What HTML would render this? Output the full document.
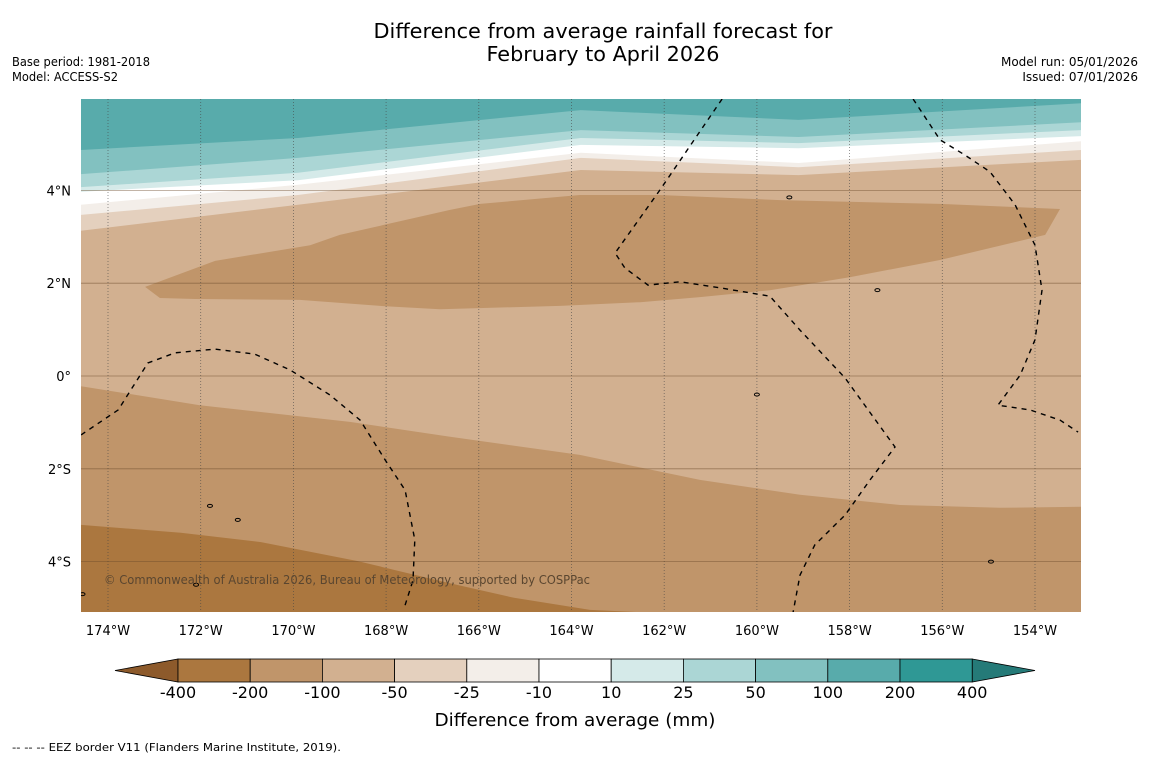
<!DOCTYPE html>
<html><head><meta charset="utf-8"><style>
body{margin:0;background:#fff;}
svg{display:block;font-family:"DejaVu Sans","Liberation Sans",sans-serif;}
</style></head><body>
<svg id="chart" width="1150" height="758" viewBox="0 0 1150 758">
<rect width="1150" height="758" fill="#fff"/>
<text x="603" y="38" font-size="20" text-anchor="middle" textLength="459" lengthAdjust="spacingAndGlyphs">Difference from average rainfall forecast for</text>
<text x="603" y="61" font-size="20" text-anchor="middle" textLength="233" lengthAdjust="spacingAndGlyphs">February to April 2026</text>
<text x="12" y="66" font-size="12" textLength="138" lengthAdjust="spacingAndGlyphs">Base period: 1981-2018</text>
<text x="12" y="81" font-size="12" textLength="106" lengthAdjust="spacingAndGlyphs">Model: ACCESS-S2</text>
<text x="1138" y="66" font-size="12" text-anchor="end">Model run: 05/01/2026</text>
<text x="1138" y="81" font-size="12" text-anchor="end">Issued: 07/01/2026</text>
<defs><clipPath id="mapclip"><rect x="81" y="99" width="1000" height="513"/></clipPath></defs>
<g id="map" clip-path="url(#mapclip)"></g>
<g id="axes"></g>
<g id="cbar"></g>
<text x="575" y="726" font-size="18" text-anchor="middle" textLength="281" lengthAdjust="spacingAndGlyphs">Difference from average (mm)</text>
<text x="12" y="751" font-size="11" textLength="329" lengthAdjust="spacingAndGlyphs">--  --  -- EEZ border V11 (Flanders Marine Institute, 2019).</text>
</svg>
<script>
const lonTicks=[-174,-172,-170,-168,-166,-164,-162,-160,-158,-156,-154];
const latTicks=[4,2,0,-2,-4];
const levels=["-400","-200","-100","-50","-25","-10","10","25","50","100","200","400"];
const bandColors=["#ab773f","#c0956a","#d2b090","#e4d0be","#f3eee9","#ffffff","#d5eae9","#abd6d5","#82c1c0","#58abab","#2f9895"];
const topLons=[-174.6,-169.9,-163.8,-159.1,-153.0];
const b200_100=[4.87,5.13,5.73,5.52,5.88];
const b100_50=[4.35,4.70,5.30,5.15,5.47];
const b50_25=[4.07,4.38,5.13,5.02,5.30];
const b25_10=[3.97,4.22,4.98,4.91,5.17];
const b10_m10=[3.69,4.12,4.81,4.59,5.06];
const bm10_m25=[3.47,3.90,4.70,4.50,4.87];
const bm25_m50=[3.13,3.69,4.44,4.33,4.66];
const pocket200=[[-173.2,1.92],[-171.69,2.48],[-169.64,2.82],[-169.0,3.04],[-166.62,3.58],[-165.97,3.71],[-163.82,3.9],[-162.09,3.9],[-159.5,3.79],[-156.05,3.71],[-153.46,3.6],[-153.78,3.04],[-156.05,2.5],[-158.0,2.13],[-159.72,1.85],[-161.23,1.7],[-162.52,1.59],[-164.25,1.51],[-166.84,1.44],[-168.13,1.51],[-169.86,1.64],[-172.12,1.66],[-172.88,1.68]];
const bm100_m200=[[-174.58,-0.22],[-172.02,-0.63],[-168.78,-0.99],[-166.62,-1.31],[-163.82,-1.7],[-161.23,-2.24],[-159.07,-2.56],[-156.91,-2.78],[-154.76,-2.84],[-153.0,-2.82]];
const bm200_m400=[[-174.58,-3.21],[-172.43,-3.38],[-170.7,-3.58],[-168.61,-3.99],[-166.66,-4.46],[-165.24,-4.78],[-163.6,-5.04],[-161.66,-5.13]];
const eezA=[[-160.75,5.97],[-162.09,4.01],[-163.06,2.65],[-162.85,2.33],[-162.35,1.96],[-161.66,2.03],[-160.8,1.9],[-159.72,1.72],[-159.07,0.99],[-158.1,-0.04],[-157.02,-1.53],[-157.56,-2.24],[-158.1,-3.0],[-158.75,-3.64],[-159.07,-4.29],[-159.22,-5.09]];
const eezB=[[-156.63,5.97],[-156.05,5.09],[-155.51,4.76],[-154.97,4.4],[-154.43,3.69],[-154.0,2.82],[-153.85,1.85],[-154.0,0.78],[-154.32,0.02],[-154.8,-0.63],[-154.11,-0.73],[-153.46,-0.95],[-153.07,-1.21]];
const eezC=[[-174.58,-1.27],[-173.78,-0.73],[-173.14,0.28],[-172.55,0.5],[-171.69,0.58],[-170.83,0.47],[-170.07,0.13],[-169.21,-0.41],[-168.56,-0.95],[-168.02,-1.81],[-167.59,-2.46],[-167.38,-3.53],[-167.42,-4.4],[-167.61,-5.0]];
const islands=[[-159.3,3.85],[-157.4,1.85],[-171.8,-2.8],[-171.2,-3.1],[-172.1,-4.5],[-154.95,-4.0],[-160.0,-0.4],[-174.55,-4.7]];

const NS='http://www.w3.org/2000/svg';
const xL=lon=>108+(lon+174)*46.35;
const yL=lat=>376-lat*46.4;
function mk(tag,attrs,parent){const e=document.createElementNS(NS,tag);for(const k in attrs)e.setAttribute(k,attrs[k]);parent.appendChild(e);return e;}
const map=document.getElementById('map'),axes=document.getElementById('axes'),cbar=document.getElementById('cbar');
const ptsStr=a=>a.map(p=>xL(p[0]).toFixed(1)+','+yL(p[1]).toFixed(1)).join(' ');
let bg=mk('rect',{x:81,y:99,width:1000,height:513,fill:bandColors[2]},map);


const topSeq=[[bm25_m50,3,'band-minus50'],[bm10_m25,4,'band-minus25'],[b10_m10,5,'band-neutral'],[b25_10,6,'band-plus10'],[b50_25,7,'band-plus25'],[b100_50,8,'band-plus50'],[b200_100,9,'band-plus100']];
topSeq.forEach(([arr,ci,nm])=>{
  const pts=topLons.map((lo,i)=>[lo,arr[i]]);
  const s=xL(-175)+','+yL(7)+' '+ptsStr(pts)+' '+xL(-152)+','+yL(7);
  const p=mk('polygon',{points:s,fill:bandColors[ci]},map);
  
  
});
let pk=mk('polygon',{points:ptsStr(pocket200),fill:bandColors[1]},map);


let lb=mk('polygon',{points:ptsStr(bm100_m200)+' '+xL(-152)+','+yL(-6)+' '+xL(-175)+','+yL(-6),fill:bandColors[1]},map);


let lb2=mk('polygon',{points:ptsStr(bm200_m400)+' '+xL(-160)+','+yL(-6)+' '+xL(-175)+','+yL(-6),fill:bandColors[0]},map);


lonTicks.forEach(lo=>{
  const l=mk('line',{x1:xL(lo),x2:xL(lo),y1:99,y2:612,stroke:'#444','stroke-width':0.8,'stroke-dasharray':'1,2','stroke-opacity':0.7},map);
  
  
  const t=mk('text',{x:xL(lo),y:635,'font-size':13,'text-anchor':'middle'},axes);
  t.textContent=Math.abs(lo)+'°W';
  
  
});
latTicks.forEach(la=>{
  const l=mk('line',{x1:81,x2:1081,y1:yL(la),y2:yL(la),stroke:'#6b4a2a','stroke-width':0.8,'stroke-opacity':0.55},map);
  
  
  const t=mk('text',{x:71,y:yL(la)+5,'font-size':13,'text-anchor':'end'},axes);
  t.textContent=la===0?'0°':Math.abs(la)+'°'+(la>0?'N':'S');
  
  
});
[eezA,eezB,eezC].forEach(a=>{
  const p=mk('polyline',{points:ptsStr(a),fill:'none',stroke:'#000','stroke-width':1.4,'stroke-dasharray':'5,5'},map);
  
  
});
islands.forEach(p=>{
  const e=mk('ellipse',{cx:xL(p[0]),cy:yL(p[1]),rx:2.5,ry:1.5,fill:'none',stroke:'#000','stroke-width':1},map);
  
  
});
let cp=mk('text',{x:104,y:584,'font-size':12,fill:'#5a4630',textLength:486,lengthAdjust:'spacingAndGlyphs'},map);
cp.textContent='© Commonwealth of Australia 2026, Bureau of Meteorology, supported by COSPPac';


const cx0=178,cw=72.2,cy=659,ch=23;
let tl=mk('polygon',{points:`115,${cy+ch/2} ${cx0},${cy} ${cx0},${cy+ch}`,fill:'#8d5a2b',stroke:'#000','stroke-width':0.8},cbar);


let tr=mk('polygon',{points:`${cx0+cw*11},${cy} 1035,${cy+ch/2} ${cx0+cw*11},${cy+ch}`,fill:'#257a78',stroke:'#000','stroke-width':0.8},cbar);


bandColors.forEach((c,i)=>{
  const r=mk('rect',{x:cx0+i*cw,y:cy,width:cw,height:ch,fill:c,stroke:'#000','stroke-width':0.8},cbar);
  
  
});
levels.forEach((lv,i)=>{
  const t=mk('text',{x:cx0+i*cw,y:698,'font-size':16,'text-anchor':'middle'},cbar);
  t.textContent=lv;
  
  
});
</script>
</body></html>
